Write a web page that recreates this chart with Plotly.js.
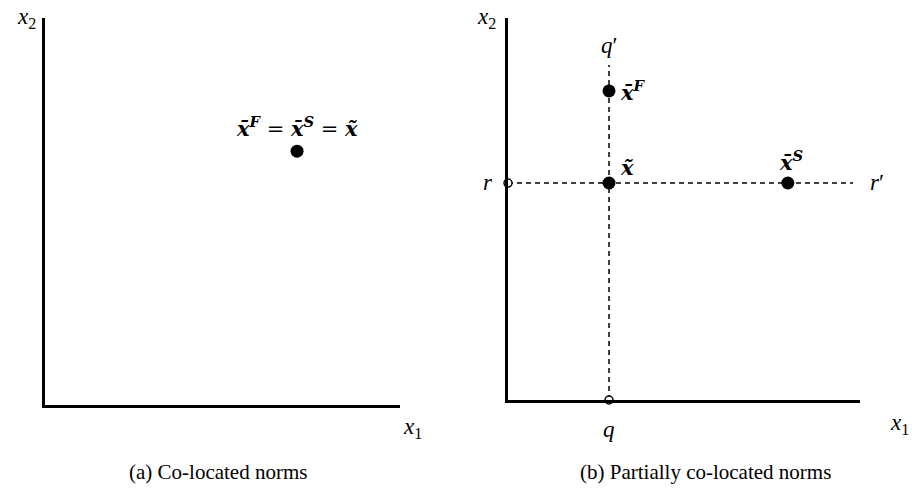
<!DOCTYPE html>
<html>
<head>
<meta charset="utf-8">
<script src="https://cdn.plot.ly/plotly-3.0.1.min.js"></script>
<style>html,body{margin:0;padding:0;background:#fff;}#chart{width:912px;height:494px;}</style>
</head>
<body>
<div id="chart"></div>
<script>
// ---- data (abstract norm space, axes 0..10) ----
const panelA_pointX = [7.1];
const panelA_pointY = [6.56];

const panelB_qX = 2.87;           // position of line q-q'
const panelB_rY = 5.68;           // position of line r-r'
const panelB_qTop = 8.77;         // top end of q-q'
const panelB_rEnd = 9.8;          // right end of r-r'
const panelB_filledX = [2.87, 2.87, 7.95];   // x̄F, x̃, x̄S
const panelB_filledY = [8.09, 5.68, 5.68];
const panelB_openX = [0, 2.87];              // r, q
const panelB_openY = [5.68, 0];

const captions = ["(a) Co-located norms", "(b) Partially co-located norms"];

// ---- layout helpers (pixel -> paper) ----
const W = 912, H = 494;
const px = v => v / W;
const py = v => 1 - v / H;

const MATH = "DejaVu Serif";
const xbar = '<b><i>x\u0304</i></b>';
const xtil = '<b><i>x\u0303</i></b>';

const traces = [
  {x: panelA_pointX, y: panelA_pointY, xaxis: 'x', yaxis: 'y', mode: 'markers',
   marker: {size: 13, color: 'black'}, cliponaxis: false, hoverinfo: 'skip'},
  {x: [panelB_qX, panelB_qX], y: [0, panelB_qTop], xaxis: 'x2', yaxis: 'y2', mode: 'lines',
   line: {color: 'black', width: 1.5, dash: '5px,4px'}, hoverinfo: 'skip'},
  {x: [0, panelB_rEnd], y: [panelB_rY, panelB_rY], xaxis: 'x2', yaxis: 'y2', mode: 'lines',
   line: {color: 'black', width: 1.5, dash: '5px,4px'}, hoverinfo: 'skip'},
  {x: panelB_filledX, y: panelB_filledY, xaxis: 'x2', yaxis: 'y2', mode: 'markers',
   marker: {size: 13, color: 'black'}, cliponaxis: false, hoverinfo: 'skip'},
  {x: panelB_openX, y: panelB_openY, xaxis: 'x2', yaxis: 'y2', mode: 'markers',
   marker: {size: 8, color: 'white', line: {color: 'black', width: 1.5}}, cliponaxis: false, hoverinfo: 'skip'}
];

const axisBase = {range: [0, 10], showline: true, linewidth: 3, linecolor: 'black',
  showticklabels: false, ticks: '', showgrid: false, zeroline: false, fixedrange: true};

const mathFont = {family: MATH, size: 21, color: 'black'};
const axFont = {family: 'Liberation Serif', size: 23, color: 'black'};
const ann = (x, y, text, extra) => Object.assign({x: x, y: y, xref: 'paper', yref: 'paper', text: text,
  showarrow: false, font: axFont, xanchor: 'center', yanchor: 'middle'}, extra || {});

const annotations = [
  // panel a
  ann(px(26), py(18), '<i>x</i><sub>2</sub>'),
  ann(px(412), py(428), '<i>x</i><sub>1</sub>'),
  {x: panelA_pointX[0], y: panelA_pointY[0], xref: 'x', yref: 'y', showarrow: false,
   text: xbar + '<sup><b><i>F</i></b></sup> = ' + xbar + '<sup><b><i>S</i></b></sup> = ' + xtil,
   font: mathFont, yshift: 24, xanchor: 'center', yanchor: 'middle'},
  // panel b
  ann(px(486), py(2), '<i>x</i><sub>2</sub>', {yanchor: 'top'}),
  ann(px(899), py(424), '<i>x</i><sub>1</sub>'),
  ann(px(609), py(46), '<i>q</i>\u2032'),
  ann(px(609), py(429), '<i>q</i>'),
  ann(px(488), py(182), '<i>r</i>'),
  ann(px(877), py(182), '<i>r</i>\u2032'),
  {x: panelB_filledX[0], y: panelB_filledY[0], xref: 'x2', yref: 'y2', showarrow: false,
   text: xbar + '<sup><b><i>F</i></b></sup>', font: mathFont, xanchor: 'left', yanchor: 'middle', xshift: 9},
  {x: panelB_filledX[1], y: panelB_filledY[1], xref: 'x2', yref: 'y2', showarrow: false,
   text: xtil, font: mathFont, xanchor: 'left', yanchor: 'middle', xshift: 9, yshift: 16},
  {x: panelB_filledX[2], y: panelB_filledY[2], xref: 'x2', yref: 'y2', showarrow: false,
   text: xbar + '<sup><b><i>S</i></b></sup>', font: mathFont, xanchor: 'center', yanchor: 'middle', xshift: 3, yshift: 22},
  // captions
  {x: px(218), y: py(472), xref: 'paper', yref: 'paper', text: captions[0], showarrow: false,
   font: {family: 'Liberation Serif', size: 21, color: 'black'}, xanchor: 'center', yanchor: 'middle'},
  {x: px(705), y: py(472), xref: 'paper', yref: 'paper', text: captions[1], showarrow: false,
   font: {family: 'Liberation Serif', size: 21, color: 'black'}, xanchor: 'center', yanchor: 'middle'}
];

const layout = {
  width: W, height: H, margin: {l: 0, r: 0, t: 0, b: 0},
  paper_bgcolor: 'white', plot_bgcolor: 'white', showlegend: false,
  xaxis: Object.assign({}, axisBase, {domain: [px(45), px(400)], anchor: 'y'}),
  yaxis: Object.assign({}, axisBase, {domain: [py(405), py(18)], anchor: 'x'}),
  xaxis2: Object.assign({}, axisBase, {domain: [px(508), px(860)], anchor: 'y2'}),
  yaxis2: Object.assign({}, axisBase, {domain: [py(400), py(18)], anchor: 'x2'}),
  annotations: annotations
};

Plotly.newPlot('chart', traces, layout, {displayModeBar: false, staticPlot: true});
</script>
</body>
</html>
